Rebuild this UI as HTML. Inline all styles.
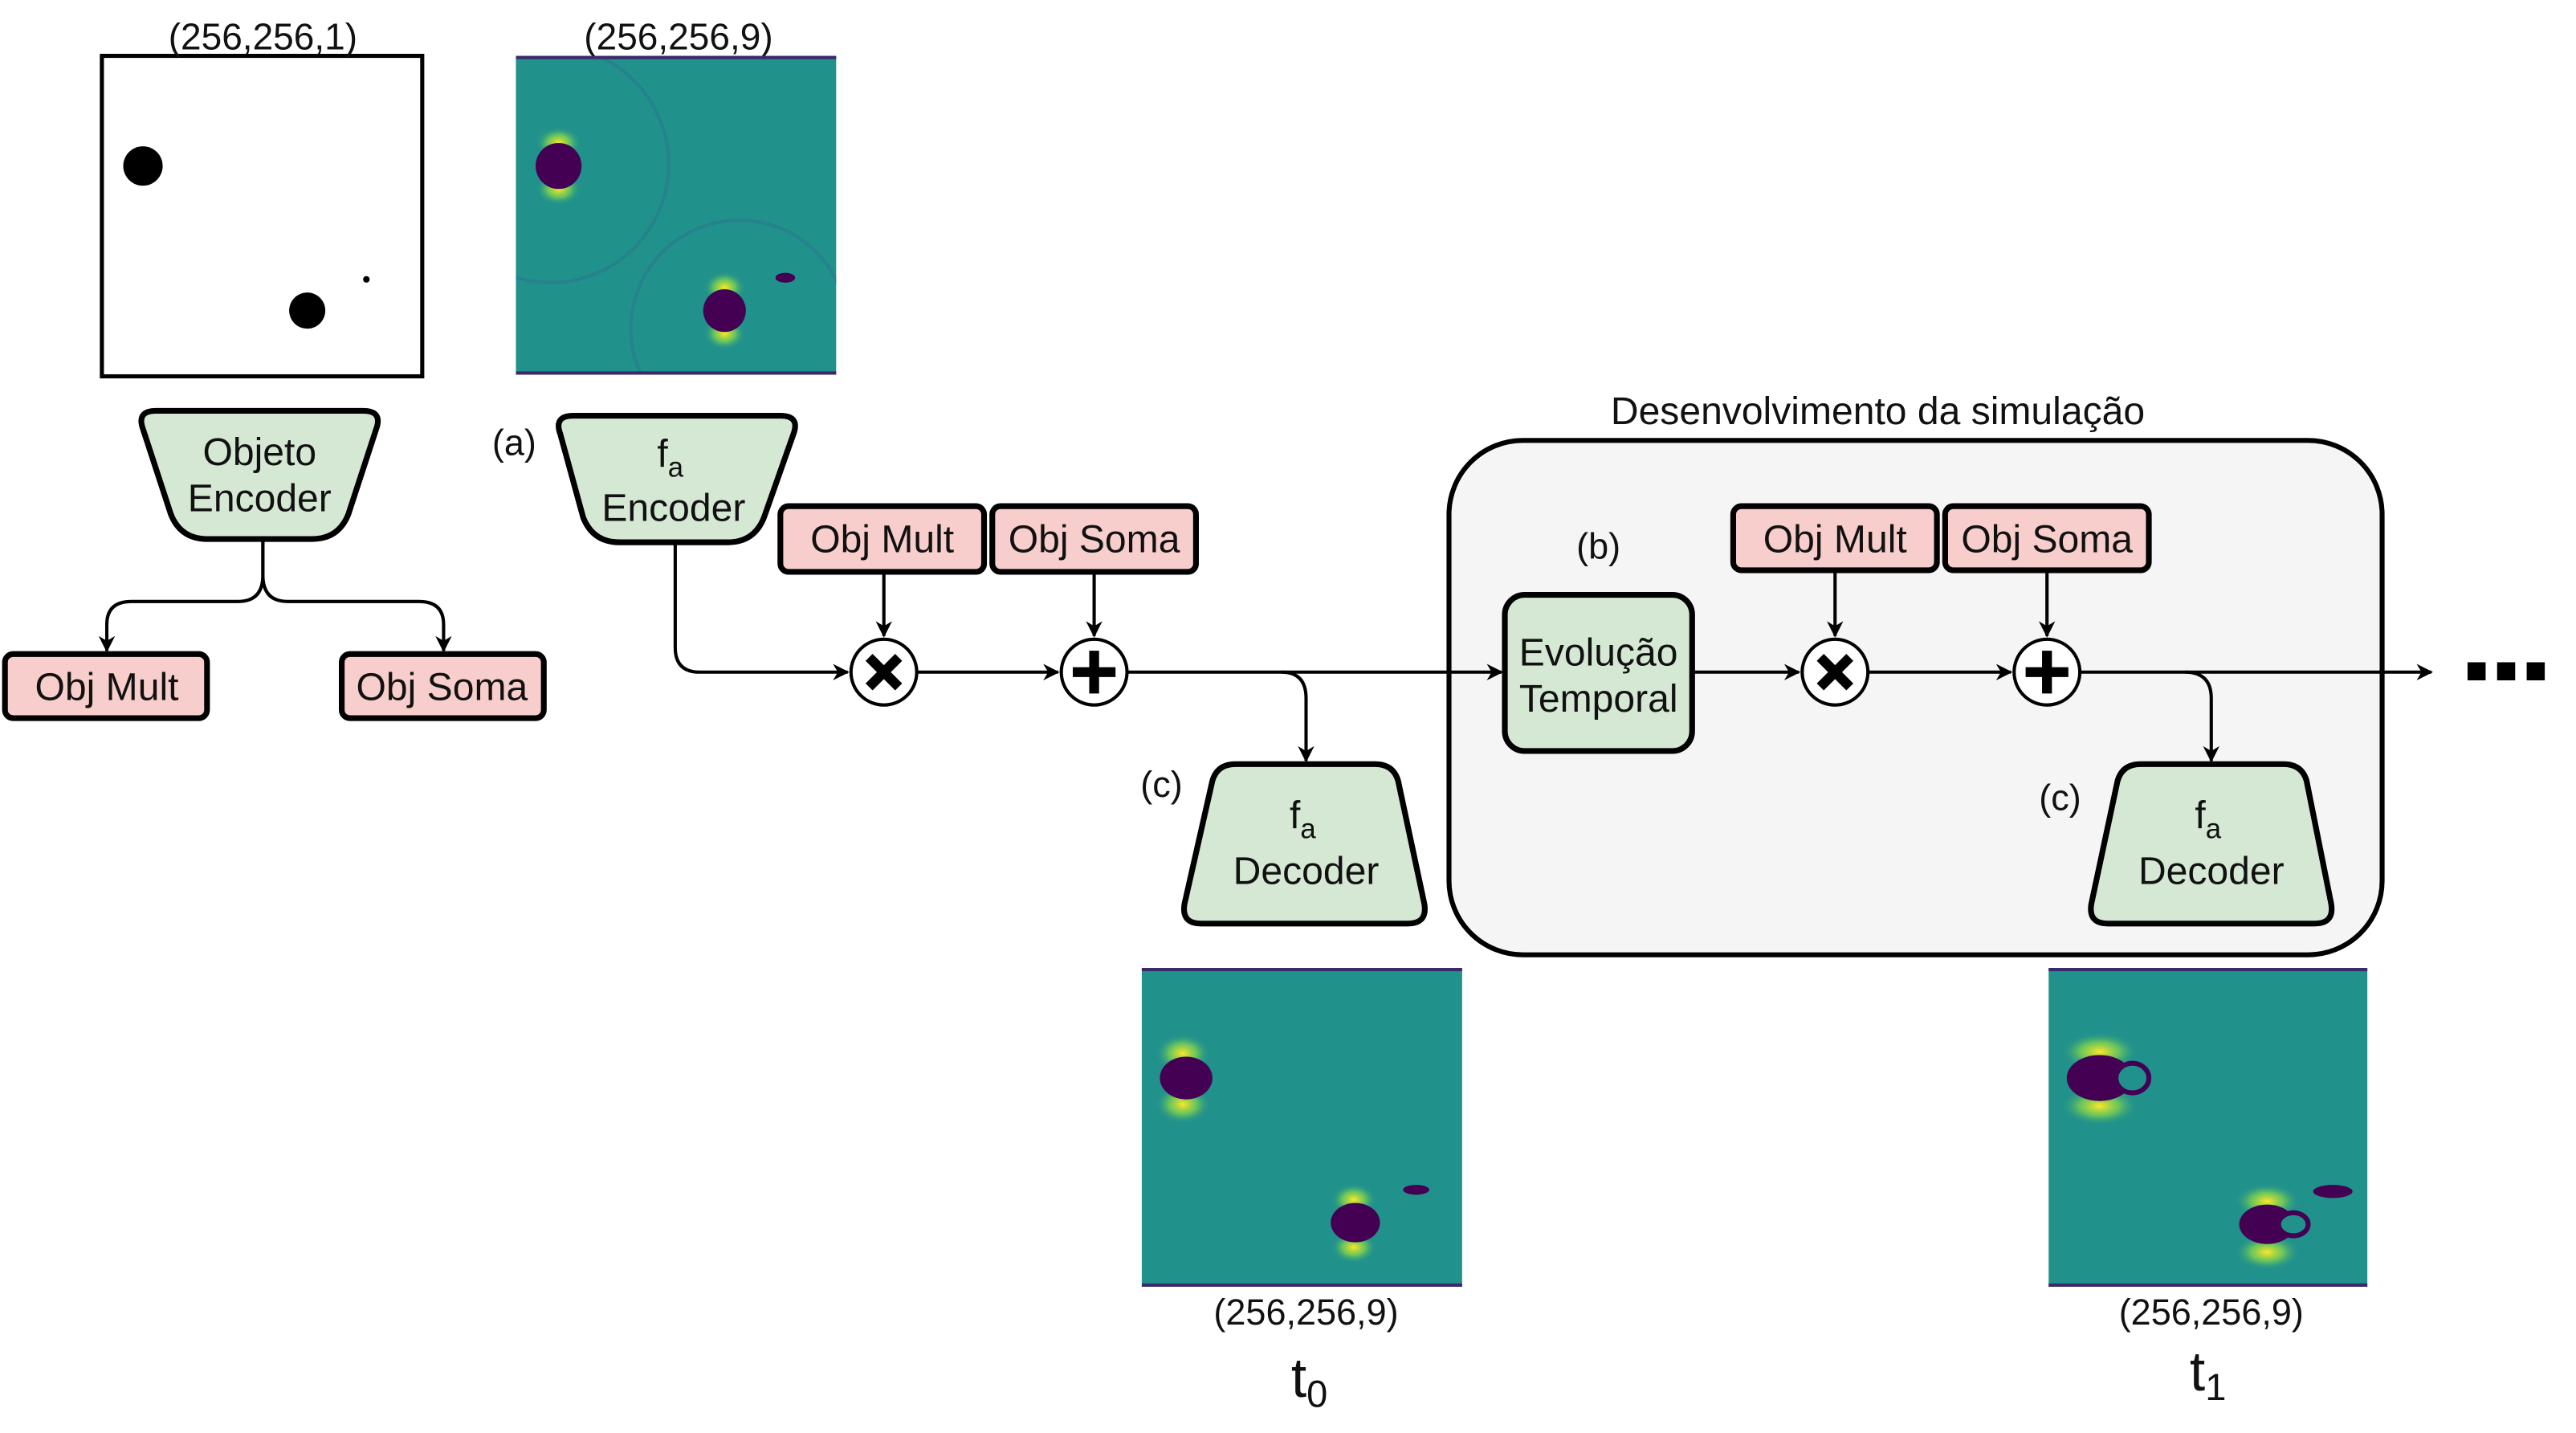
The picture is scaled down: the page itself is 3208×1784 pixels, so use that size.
<!DOCTYPE html>
<html><head><meta charset="utf-8"><style>html,body{margin:0;padding:0;background:#fff}svg{display:block}text{font-family:"Liberation Sans",sans-serif;fill:#111}</style></head><body>
<svg width="3208" height="1784" viewBox="1 0 1566 872" xmlns="http://www.w3.org/2000/svg">
<defs>
<radialGradient id="yl"><stop offset="0" stop-color="#fde725"/><stop offset="0.5" stop-color="#7ad151" stop-opacity="0.8"/><stop offset="1" stop-color="#21918c" stop-opacity="0"/></radialGradient>
<clipPath id="c1"><rect x="314" y="34" width="195" height="194"/></clipPath>
<marker id="ar" markerWidth="10" markerHeight="10" refX="9" refY="5" orient="auto" markerUnits="userSpaceOnUse"><path d="M0,0 L10,5 L0,10 L3,5 Z" fill="#000"/></marker>
</defs>
<rect x="62" y="34" width="195" height="195" fill="#fff" stroke="#000" stroke-width="2.5"/>
<circle cx="87" cy="101" r="12" fill="#000"/><circle cx="187" cy="189" r="11" fill="#000"/><circle cx="223" cy="170" r="2" fill="#000"/>
<text x="160" y="30" font-size="22.5" text-anchor="middle">(256,256,1)</text>
<text x="413" y="30" font-size="22.5" text-anchor="middle">(256,256,9)</text>

<g clip-path="url(#c1)">
<rect x="314" y="34" width="195" height="194" fill="#21918c"/>
<circle cx="335" cy="100" r="72" fill="none" stroke="#2a788e" stroke-width="2" opacity="0.6"/>
<circle cx="450" cy="200" r="66" fill="none" stroke="#2a788e" stroke-width="2" opacity="0.6"/>
<ellipse cx="340" cy="87" rx="14" ry="10" fill="url(#yl)"/><ellipse cx="340" cy="115" rx="14" ry="10" fill="url(#yl)"/>
<ellipse cx="441" cy="175" rx="13" ry="10" fill="url(#yl)"/><ellipse cx="441" cy="203" rx="13" ry="10" fill="url(#yl)"/>
<circle cx="340" cy="101" r="14" fill="#440154"/><circle cx="441" cy="189" r="13" fill="#440154"/>
<ellipse cx="478" cy="169" rx="6" ry="3" fill="#440154"/>
<rect x="314" y="34" width="195" height="2" fill="#3b2a6b"/><rect x="314" y="226" width="195" height="2" fill="#3b2a6b"/>
</g>

<g>
<rect x="695" y="589" width="195" height="194" fill="#21918c"/>
<ellipse cx="720" cy="641" rx="17" ry="12" fill="url(#yl)"/><ellipse cx="720" cy="672" rx="17" ry="12" fill="url(#yl)"/>
<ellipse cx="824" cy="730" rx="14" ry="10" fill="url(#yl)"/><ellipse cx="824" cy="759" rx="14" ry="10" fill="url(#yl)"/>
<ellipse cx="722" cy="656" rx="16" ry="13" fill="#440154"/><ellipse cx="825" cy="744" rx="15" ry="12" fill="#440154"/>
<ellipse cx="862" cy="724" rx="8" ry="3" fill="#440154"/>
<rect x="695" y="589" width="195" height="2" fill="#3b2a6b"/><rect x="695" y="781" width="195" height="2" fill="#3b2a6b"/>
</g>

<g>
<rect x="1247" y="589" width="194" height="194" fill="#21918c"/>
<ellipse cx="1278" cy="640" rx="24" ry="12" fill="url(#yl)"/><ellipse cx="1278" cy="673" rx="24" ry="12" fill="url(#yl)"/>
<ellipse cx="1380" cy="731" rx="20" ry="11" fill="url(#yl)"/><ellipse cx="1380" cy="762" rx="20" ry="11" fill="url(#yl)"/>
<ellipse cx="1278" cy="656" rx="20" ry="14" fill="#440154"/><ellipse cx="1298" cy="656" rx="10" ry="9" fill="#21918c" stroke="#440154" stroke-width="3"/>
<ellipse cx="1380" cy="745" rx="17" ry="12" fill="#440154"/><ellipse cx="1396" cy="745" rx="9" ry="7" fill="#21918c" stroke="#440154" stroke-width="3"/>
<ellipse cx="1420" cy="725" rx="12" ry="4" fill="#440154"/>
<rect x="1247" y="589" width="194" height="2" fill="#3b2a6b"/><rect x="1247" y="781" width="194" height="2" fill="#3b2a6b"/>
</g>

<rect x="882" y="268" width="568" height="313" rx="45" fill="#f5f5f5" stroke="#000" stroke-width="3"/>
<text x="1143" y="258" font-size="23.5" text-anchor="middle">Desenvolvimento da simulação</text>

<g fill="#d5e8d4" stroke="#000" stroke-width="3.5" stroke-linejoin="round">
<path d="M95,250 L221,250 Q233,250 229,261 L212,313 Q206,328 190,328 L126,328 Q110,328 104,313 L87,261 Q83,250 95,250 Z"/>
<path d="M349,253 L475,253 Q487,253 483,264 L465,315 Q459,330 443,330 L377,330 Q361,330 355,315 L341,264 Q337,253 349,253 Z"/>
<path d="M752,465 L837,465 Q848,465 851,475 L867,550 Q869,562 857,562 L731,562 Q719,562 721,550 L738,475 Q741,465 752,465 Z"/>
<path d="M1303,465 L1390,465 Q1401,465 1404,475 L1419,550 Q1421,562 1409,562 L1283,562 Q1271,562 1273,550 L1289,475 Q1292,465 1303,465 Z"/>
<rect x="916" y="362" width="114" height="95" rx="12"/>
</g>
<g fill="#f8cecc" stroke="#000" stroke-width="3.5">
<rect x="3" y="398" width="123" height="39" rx="5"/>
<rect x="208" y="398" width="123" height="39" rx="5"/>
<rect x="475" y="308" width="124" height="40" rx="5"/>
<rect x="604" y="308" width="124" height="40" rx="5"/>
<rect x="1055" y="308" width="124" height="39" rx="5"/>
<rect x="1184" y="308" width="124" height="39" rx="5"/>
</g>

<g fill="none" stroke="#000" stroke-width="2" marker-end="url(#ar)">
<path d="M160,328 L160,350 Q160,366 145,366 L80,366 Q65,366 65,380 L65,396"/>
<path d="M160,328 L160,350 Q160,366 175,366 L255,366 Q270,366 270,380 L270,396"/>
<path d="M411,330 L411,394 Q411,409 426,409 L516,409"/>
<path d="M538,348 L538,387"/>
<path d="M666,348 L666,387"/>
<path d="M558,409 L644,409"/>
<path d="M686,409 L914,409"/>
<path d="M780,409 Q795,409 795,425 L795,463"/>
<path d="M1030,409 L1095,409"/>
<path d="M1117,347 L1117,387"/>
<path d="M1246,347 L1246,387"/>
<path d="M1137,409 L1224,409"/>
<path d="M1266,409 L1480,409"/>
<path d="M1330,409 Q1346,409 1346,425 L1346,463"/>
</g>
<g fill="#fff" stroke="#000" stroke-width="2">
<circle cx="538" cy="409" r="20"/><circle cx="666" cy="409" r="20"/>
<circle cx="1117" cy="409" r="20"/><circle cx="1246" cy="409" r="20"/>
</g>
<g stroke="#000" stroke-width="6">
<path d="M529,400 L547,418 M547,400 L529,418"/>
<path d="M1108,400 L1126,418 M1126,400 L1108,418"/>
<path d="M666,396 L666,422 M653,409 L679,409"/>
<path d="M1246,396 L1246,422 M1233,409 L1259,409"/>
</g>
<g fill="#000"><rect x="1502" y="403" width="11" height="11"/><rect x="1520" y="403" width="11" height="11"/><rect x="1538" y="403" width="11" height="11"/></g>

<g font-size="23.5" text-anchor="middle">
<text x="158" y="283">Objeto</text><text x="158" y="311">Encoder</text>
<text x="65" y="426">Obj Mult</text><text x="269" y="426">Obj Soma</text>
<text x="537" y="336">Obj Mult</text><text x="666" y="336">Obj Soma</text>
<text x="1117" y="336">Obj Mult</text><text x="1246" y="336">Obj Soma</text>
<text x="410" y="317">Encoder</text>
<text x="795" y="538">Decoder</text><text x="1346" y="538">Decoder</text>
<text x="973" y="405">Evolução</text><text x="973" y="433">Temporal</text>
<text x="408" y="284">f<tspan font-size="17" dy="6">a</tspan></text>
<text x="793" y="504">f<tspan font-size="17" dy="6">a</tspan></text>
<text x="1344" y="504">f<tspan font-size="17" dy="6">a</tspan></text>
</g>
<g font-size="22" text-anchor="middle">
<text x="313" y="277">(a)</text><text x="973" y="340">(b)</text>
<text x="707" y="485">(c)</text><text x="1254" y="493">(c)</text>
<text x="795" y="806">(256,256,9)</text><text x="1346" y="806">(256,256,9)</text>
</g>
<g font-size="34" text-anchor="middle">
<text x="797" y="850">t<tspan font-size="23" dy="6">0</tspan></text>
<text x="1344" y="846">t<tspan font-size="23" dy="6">1</tspan></text>
</g>
</svg>
</body></html>
